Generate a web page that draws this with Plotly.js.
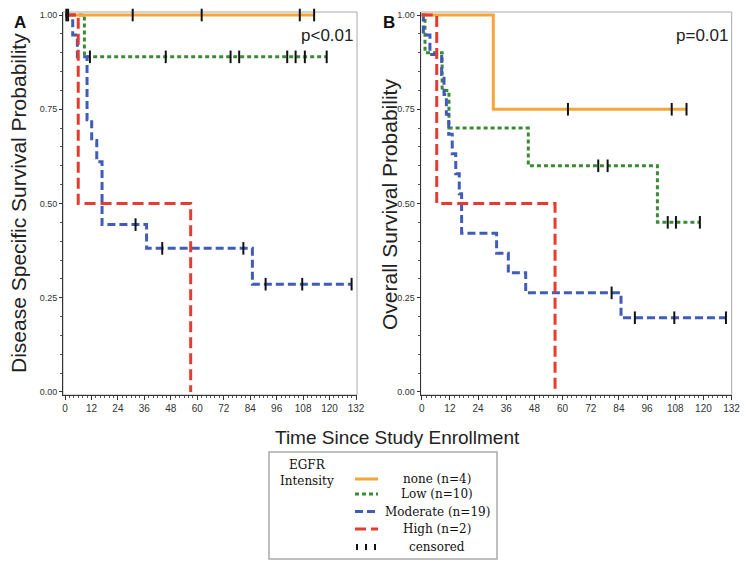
<!DOCTYPE html>
<html>
<head>
<meta charset="utf-8">
<script src="https://cdn.plot.ly/plotly-3.0.1.min.js"></script>
<style>
body{margin:0;background:#fff;}
#graph{width:751px;height:571px;}
</style>
</head>
<body>
<div id="graph"></div>
<script>
// legend labels
const groups = ['none (n=4)', 'Low (n=10)', 'Moderate (n=19)', 'High (n=2)'];
const colors = ['#f5a53a', '#3b8a35', '#3f5db8', '#e53b31'];
const dashes = ['solid', '4px,3px', '8px,4px', '11px,5px'];
const xTicks = [0, 12, 24, 36, 48, 60, 72, 84, 96, 108, 120, 132];
const yTicks = [0, 0.25, 0.5, 0.75, 1];

// A - disease specific survival (months, probability)
const noneA_t = [0, 113];
const noneA_s = [1, 1];
const noneA_ct = [30.7, 62, 106.5, 113];
const noneA_cs = [1, 1, 1, 1];

const lowA_t = [0, 8.8, 118.7];
const lowA_s = [1, 0.889, 0.889];
const lowA_ct = [0.6, 1.4, 11.3, 45.7, 75.1, 79, 100.8, 104.6, 108.8, 118.7];
const lowA_cs = [1, 1, 0.889, 0.889, 0.889, 0.889, 0.889, 0.889, 0.889, 0.889];

const modA_t = [0, 3.5, 5.6, 10, 12.1, 14.4, 16.8, 37, 85, 130];
const modA_s = [1, 0.947, 0.889, 0.722, 0.667, 0.611, 0.444, 0.381, 0.286, 0.286];
const modA_ct = [32, 44.1, 80.9, 91, 107.6, 130];
const modA_cs = [0.444, 0.381, 0.381, 0.286, 0.286, 0.286];

const highA_t = [0, 6, 57];
const highA_s = [1, 0.5, 0];

// B - overall survival
const noneB_t = [0, 30.5, 112.8];
const noneB_s = [1, 0.75, 0.75];
const noneB_ct = [62.3, 106.5, 112.8];
const noneB_cs = [0.75, 0.75, 0.75];

const lowB_t = [0, 1.4, 8.7, 11.6, 45.4, 100.4, 118.5];
const lowB_s = [1, 0.9, 0.8, 0.7, 0.6, 0.45, 0.45];
const lowB_ct = [75.2, 79.2, 104.8, 108.3, 118.5];
const lowB_cs = [0.6, 0.6, 0.45, 0.45, 0.45];

const modB_t = [0, 0.7, 3.5, 8.5, 9.5, 10.5, 11.5, 13, 14.5, 16, 17, 31.9, 36.9, 44.3, 84.9, 129.6];
const modB_s = [1, 0.947, 0.895, 0.842, 0.789, 0.737, 0.684, 0.632, 0.579, 0.526, 0.421, 0.368, 0.316, 0.263, 0.197, 0.197];
const modB_ct = [80.9, 90.8, 107.6, 129.6];
const modB_cs = [0.263, 0.197, 0.197, 0.197];

const highB_t = [0, 6.4, 56.8];
const highB_s = [1, 0.5, 0];

const W = 751, H = 571;
const px = v => v / W;
const py = v => 1 - v / H;
const tickFont = {family: 'Liberation Sans Narrow, Arial Narrow, Liberation Sans, Arial', size: 10, color: '#333'};
const titleFont = {family: 'Liberation Sans, Arial, sans-serif', size: 21, color: '#222'};
const legFont = {family: 'DejaVu Serif, serif', size: 12, color: '#111'};

function stepTrace(t, s, i, xa, ya) {
    return {
        x: t, y: s, xaxis: xa, yaxis: ya, type: 'scatter', mode: 'lines',
        line: {shape: 'hv', color: colors[i], width: 3, dash: dashes[i]},
        name: groups[i], showlegend: false, hoverinfo: 'skip'
    };
}

function censorTrace(t, s, xa, ya) {
    return {
        x: t, y: s, xaxis: xa, yaxis: ya, type: 'scatter', mode: 'markers',
        marker: {symbol: 'line-ns', size: 9, color: '#111', line: {width: 2, color: '#111'}},
        cliponaxis: false, showlegend: false, hoverinfo: 'skip'
    };
}

let data = [
    stepTrace(lowA_t, lowA_s, 1, 'x', 'y'),
    stepTrace(modA_t, modA_s, 2, 'x', 'y'),
    stepTrace(noneA_t, noneA_s, 0, 'x', 'y'),
    stepTrace(highA_t, highA_s, 3, 'x', 'y'),
    censorTrace(noneA_ct, noneA_cs, 'x', 'y'),
    censorTrace(lowA_ct, lowA_cs, 'x', 'y'),
    censorTrace(modA_ct, modA_cs, 'x', 'y'),

    stepTrace(lowB_t, lowB_s, 1, 'x2', 'y2'),
    stepTrace(modB_t, modB_s, 2, 'x2', 'y2'),
    stepTrace(noneB_t, noneB_s, 0, 'x2', 'y2'),
    stepTrace(highB_t, highB_s, 3, 'x2', 'y2'),
    censorTrace(noneB_ct, noneB_cs, 'x2', 'y2'),
    censorTrace(lowB_ct, lowB_cs, 'x2', 'y2'),
    censorTrace(modB_ct, modB_cs, 'x2', 'y2')
];

function xAxis(domain, range) {
    return {
        domain: domain, range: range, tickvals: xTicks, ticktext: xTicks.map(String),
        showline: true, linecolor: '#333', linewidth: 1, ticks: 'outside', ticklen: 4,
        tickcolor: '#333', tickfont: tickFont, showgrid: false, zeroline: false,
        minor: {ticks: 'outside', ticklen: 2, tickcolor: '#555', dtick: 2, tick0: 0, showgrid: false}
    };
}

function yAxis(anchor) {
    return {
        domain: [py(395), py(12)], range: [-0.008, 1.008], anchor: anchor,
        tickvals: yTicks, ticktext: yTicks.map(v => v.toFixed(2)),
        showline: true, linecolor: '#333', linewidth: 1, ticks: 'outside', ticklen: 3,
        tickcolor: '#333', tickfont: Object.assign({}, tickFont, {size: 9}), showgrid: false, zeroline: false,
        minor: {ticks: 'outside', ticklen: 2, tickcolor: '#555', dtick: 0.05, tick0: 0, showgrid: false}
    };
}

let shapes = [
    {type: 'rect', xref: 'x domain', yref: 'y domain', x0: 0, x1: 1, y0: 0, y1: 1, line: {color: '#aaa', width: 1}, layer: 'below'},
    {type: 'rect', xref: 'x2 domain', yref: 'y2 domain', x0: 0, x1: 1, y0: 0, y1: 1, line: {color: '#aaa', width: 1}, layer: 'below'},
    {type: 'rect', xref: 'paper', yref: 'paper', x0: px(269), x1: px(497), y0: py(559), y1: py(452), line: {color: '#aaa', width: 1.5}}
];

// legend samples
const legRows = [479, 494, 511.5, 529];
legRows.forEach((r, i) => {
    shapes.push({type: 'line', xref: 'paper', yref: 'paper', x0: px(355), x1: px(378), y0: py(r), y1: py(r),
        line: {color: colors[i], width: 3, dash: dashes[i]}});
});
[357, 366, 375].forEach(x => {
    shapes.push({type: 'line', xref: 'paper', yref: 'paper', x0: px(x), x1: px(x), y0: py(544), y1: py(550),
        line: {color: '#111', width: 2}});
});

let annotations = [
    {text: '<b>A</b>', x: px(20), y: py(23), font: {family: 'Liberation Sans, Arial', size: 17, color: '#111'}},
    {text: '<b>B</b>', x: px(389), y: py(23), font: {family: 'Liberation Sans, Arial', size: 17, color: '#111'}},
    {text: 'p&lt;0.01', x: px(327), y: py(35), font: {family: 'Liberation Sans, Arial', size: 17, color: '#222'}},
    {text: 'p=0.01', x: px(702), y: py(35), font: {family: 'Liberation Sans, Arial', size: 17, color: '#222'}},
    {text: 'Disease Specific Survival Probability', x: px(18), y: py(203), textangle: -90, font: titleFont},
    {text: 'Overall Survival Probability', x: px(389), y: py(205), textangle: -90, font: titleFont},
    {text: 'Time Since Study Enrollment', x: px(397), y: py(437), font: Object.assign({}, titleFont, {size: 19})},
    {text: 'EGFR<br>Intensity', x: px(307), y: py(473), font: legFont},
    {text: 'censored', x: px(437), y: py(547), font: legFont}
];
groups.forEach((g, i) => {
    annotations.push({text: g, x: px(437), y: py(legRows[i]), font: legFont});
});
annotations.forEach(a => {
    a.xref = 'paper'; a.yref = 'paper'; a.showarrow = false;
    a.xanchor = 'center'; a.yanchor = 'middle';
});

let layout = {
    width: W, height: H,
    margin: {l: 0, r: 0, t: 0, b: 0},
    paper_bgcolor: '#fff', plot_bgcolor: '#fff',
    showlegend: false,
    xaxis: xAxis([px(63), px(357)], [-0.91, 132.45]),
    yaxis: yAxis('x'),
    xaxis2: Object.assign(xAxis([px(420.7), px(731.7)], [-0.43, 132.05]), {anchor: 'y2'}),
    yaxis2: yAxis('x2'),
    shapes: shapes,
    annotations: annotations
};

Plotly.newPlot('graph', data, layout, {staticPlot: true});
</script>
</body>
</html>
